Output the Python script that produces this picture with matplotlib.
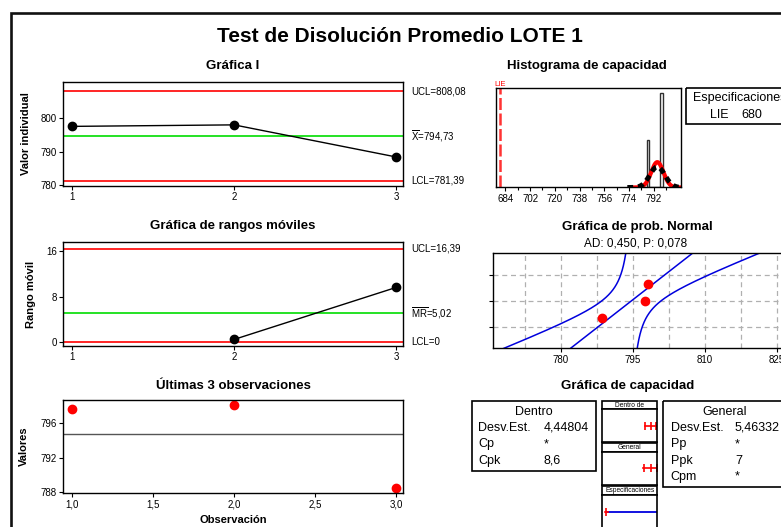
from statistics import NormalDist

import numpy as np
from matplotlib import patches
from matplotlib import pyplot as plt

plt.rcParams["font.family"] = ["Liberation Sans", "DejaVu Sans"]
plt.rcParams["mathtext.fontset"] = "custom"
plt.rcParams["mathtext.rm"] = "Liberation Sans"

W, H = 781, 527

# data
obs = [1, 2, 3]
values = [797.63, 798.08, 788.49]
mr_obs = [2, 3]
moving_ranges = [0.45, 9.59]

x_ucl, x_bar, x_lcl = 808.08, 794.73, 781.39
mr_ucl, mr_bar, mr_lcl = 16.39, 5.02, 0.0

sd_within = 4.44804
sd_overall = 5.46332
lie = 680

hist_bins = [787, 789, 791, 793, 795, 797, 799]
hist_ticks = [684, 702, 720, 738, 756, 774, 792]

prob_values = [788.49, 797.63, 798.08]
prob_pct = [20.6, 50.0, 79.4]
prob_grid_pct = [10, 50, 90]

last_ticks = [1.0, 1.5, 2.0, 2.5, 3.0]
last_labels = ["1,0", "1,5", "2,0", "2,5", "3,0"]

within_rows = [("Desv.Est.", "4,44804"), ("Cp", "*"), ("Cpk", "8,6")]
overall_rows = [("Desv.Est.", "5,46332"), ("Pp", "*"), ("Ppk", "7"), ("Cpm", "*")]

GREEN = "#00dd00"


def px_axes(fig, x0, y0, x1, y1):
    return fig.add_axes([x0 / W, 1 - y1 / H, (x1 - x0) / W, (y1 - y0) / H])


def style(ax):
    for s in ax.spines.values():
        s.set_linewidth(1.0)
    ax.tick_params(labelsize=7, length=3, width=0.8, direction="out", pad=1.5)
    ax.tick_params(top=False, right=False)


def side_label(ax, y, text):
    ax.annotate(text, xy=(1, y), xycoords=("axes fraction", "data"),
                xytext=(6, 0), textcoords="offset points",
                fontsize=7, va="center", ha="left")


def normal_pdf(x, mu, sd):
    return np.exp(-0.5 * ((x - mu) / sd) ** 2) / (sd * np.sqrt(2 * np.pi))


def main():
    fig = plt.figure(figsize=(W / 100, H / 100), dpi=100)

    ov = fig.add_axes([0, 0, 1, 1])
    ov.set_xlim(0, W)
    ov.set_ylim(H, 0)
    ov.axis("off")

    # outer frame
    ov.plot([11, 11, 800], [540, 12.8, 12.8], color="#111111", lw=1.9,
            solid_joinstyle="miter", clip_on=False)

    def ftext(x, y, s, **kw):
        ov.text(x, y, s, **kw)

    ftext(400, 37, "Test de Disolución Promedio LOTE 1", fontsize=15,
          fontweight="bold", ha="center", va="center")
    ftext(233, 66, "Gráfica I", fontsize=9.5, fontweight="bold", ha="center", va="center")
    ftext(587, 66, "Histograma de capacidad", fontsize=9.5, fontweight="bold",
          ha="center", va="center")
    ftext(233, 226, "Gráfica de rangos móviles", fontsize=9.5, fontweight="bold",
          ha="center", va="center")
    ftext(637, 227, "Gráfica de prob. Normal", fontsize=9.5, fontweight="bold",
          ha="center", va="center")
    ftext(636, 243, "AD: 0,450, P: 0,078", fontsize=8.5, ha="center", va="center")
    ftext(233, 386, "Últimas 3 observaciones", fontsize=9.5, fontweight="bold",
          ha="center", va="center")
    ftext(628, 386, "Gráfica de capacidad", fontsize=9.5, fontweight="bold",
          ha="center", va="center")

    # Gráfica I
    ax = px_axes(fig, 63, 82, 403, 186)
    ax.axhline(x_ucl, color="red", lw=1.2)
    ax.axhline(x_bar, color=GREEN, lw=1.2)
    ax.axhline(x_lcl, color="red", lw=1.2)
    ax.plot(obs, values, color="black", lw=1, marker="o", ms=6)
    ax.set_xlim(0.944, 3.043)
    ax.set_ylim(779.8, 810.9)
    ax.set_xticks(obs)
    ax.set_yticks([780, 790, 800])
    ax.set_ylabel("Valor individual", fontsize=8, fontweight="bold")
    ax.yaxis.set_label_coords(-0.094, 0.5)
    style(ax)
    side_label(ax, x_ucl, "UCL=808,08")
    side_label(ax, x_bar, r"$\overline{\mathrm{X}}$=794,73")
    side_label(ax, x_lcl, "LCL=781,39")

    # Gráfica de rangos móviles
    ax = px_axes(fig, 63, 242.3, 403, 346)
    ax.axhline(mr_ucl, color="red", lw=1.2)
    ax.axhline(mr_bar, color=GREEN, lw=1.2)
    ax.axhline(mr_lcl, color="red", lw=1.2)
    ax.plot(mr_obs, moving_ranges, color="black", lw=1, marker="o", ms=6)
    ax.set_xlim(0.944, 3.043)
    ax.set_ylim(-0.7, 17.53)
    ax.set_xticks(obs)
    ax.set_yticks([0, 8, 16])
    ax.set_ylabel("Rango móvil", fontsize=8, fontweight="bold")
    ax.yaxis.set_label_coords(-0.079, 0.5)
    style(ax)
    side_label(ax, mr_ucl, "UCL=16,39")
    side_label(ax, mr_bar, r"$\overline{\mathrm{MR}}$=5,02")
    side_label(ax, mr_lcl, "LCL=0")

    # Últimas 3 observaciones
    ax = px_axes(fig, 63, 400, 403, 493.3)
    ax.axhline(x_bar, color="#555555", lw=1)
    ax.plot(obs, values, "o", color="red", ms=6)
    ax.set_xlim(0.944, 3.043)
    ax.set_ylim(787.9, 798.7)
    ax.set_xticks(last_ticks)
    ax.set_xticklabels(last_labels)
    ax.set_yticks([788, 792, 796])
    ax.set_ylabel("Valores", fontsize=8, fontweight="bold")
    ax.yaxis.set_label_coords(-0.1, 0.5)
    ax.set_xlabel("Observación", fontsize=8, fontweight="bold")
    ax.xaxis.set_label_coords(0.5, -0.23)
    style(ax)

    # Histograma de capacidad
    ax = px_axes(fig, 495.7, 88.3, 681, 187.5)
    ax.hist(values, bins=hist_bins, facecolor="white", edgecolor="#303030", lw=1)
    ax.axvline(lie, color="#ff3333", lw=1.8, ls=(0, (4.8, 1.4)))
    xs = np.linspace(x_bar - 4 * sd_within, 812, 300)
    scale = len(values) * (hist_bins[1] - hist_bins[0])
    ax.plot(xs, scale * normal_pdf(xs, x_bar, sd_within), color="red", lw=3)
    xs = np.linspace(x_bar - 4 * sd_overall, 812, 300)
    ax.plot(xs, scale * normal_pdf(xs, x_bar, sd_overall), color="black", lw=3.5,
            ls=(0, (1.2, 1.0)))
    ax.set_xlim(676.9, 812)
    ax.set_ylim(0, 2.105)
    ax.set_xticks(hist_ticks)
    ax.set_xticks([t + 9 for t in hist_ticks], minor=True)
    ax.set_yticks([])
    style(ax)
    ax.tick_params(which="minor", length=2, width=0.8)
    ax.text(lie, 1.0, "LIE", transform=ax.get_xaxis_transform(), color="red",
            fontsize=5.5, ha="center", va="bottom")

    ov.add_patch(patches.Rectangle((685.7, 87.7), 120, 36.3, fill=False,
                                   lw=1.2, ec="black", clip_on=False))
    ftext(692.7, 98.5, "Especificaciones", fontsize=9, va="center")
    ftext(710, 114.5, "LIE", fontsize=9, va="center")
    ftext(741.7, 114.5, str(lie), fontsize=9, va="center")

    # Gráfica de prob. Normal
    nd = NormalDist()
    zlim = nd.inv_cdf(0.99)
    ax = px_axes(fig, 493.3, 253.3, 790, 348.3)
    ax.set_xlim(765.9, 827.8)
    ax.set_ylim(-zlim, zlim)
    ax.set_xticks([780, 795, 810, 825])
    ax.set_xticks([772.5, 787.5, 802.5, 817.5], minor=True)
    ax.set_yticks([nd.inv_cdf(p / 100) for p in prob_grid_pct])
    ax.set_yticklabels([])
    ax.grid(True, which="both", color="#b0b0b0", ls=(0, (4, 3)), lw=0.9)
    ax.set_axisbelow(True)
    n = len(prob_values)
    zz = np.linspace(-3, 3, 300)
    fit = x_bar + zz * sd_overall
    half = 1.96 * sd_overall * np.sqrt(1 / n + zz ** 2 / (2 * (n - 1)))
    ax.plot(fit, zz, color="#0000dd", lw=1.1)
    ax.plot(fit - half, zz, color="#0000dd", lw=1.1)
    ax.plot(fit + half, zz, color="#0000dd", lw=1.1)
    ax.plot(prob_values, [nd.inv_cdf(p / 100) for p in prob_pct], "o",
            color="red", ms=6, zorder=5)
    style(ax)
    ax.tick_params(which="minor", length=0)

    # Gráfica de capacidad: text boxes
    ov.add_patch(patches.Rectangle((471.7, 400.7), 124.3, 70, fill=False,
                                   lw=1.2, ec="black"))
    ftext(533.5, 411.7, "Dentro", fontsize=9, ha="center", va="center")
    for i, (name, val) in enumerate(within_rows):
        y = 428 + i * 16.3
        ftext(478.3, y, name, fontsize=9, va="center")
        ftext(543.3, y, val, fontsize=9, va="center")

    ov.add_patch(patches.Rectangle((663.3, 400.7), 140, 86, fill=False,
                                   lw=1.2, ec="black", clip_on=False))
    ftext(725, 411.7, "General", fontsize=9, ha="center", va="center")
    for i, (name, val) in enumerate(overall_rows):
        y = 428 + i * 16.3
        ftext(670.7, y, name, fontsize=9, va="center")
        ftext(735, y, val, fontsize=9, va="center")

    # Gráfica de capacidad: interval panels
    panels = [
        ("Dentro de", 400.7, 409.3, 441.7, sd_within),
        ("General", 442.7, 451.7, 485, sd_overall),
        ("Especificaciones", 486, 495.3, 545, None),
    ]
    for label, top, mid, bottom, sd in panels:
        ov.add_patch(patches.Rectangle((602.3, top), 55, mid - top, fill=False,
                                       lw=1.2, ec="black"))
        ftext(629.8, (top + mid) / 2 + 0.3, label, fontsize=4.8, ha="center",
              va="center")
        pax = px_axes(fig, 602.3, mid, 657.3, bottom)
        pax.set_xlim(670, 812)
        pax.set_ylim(0, 1)
        pax.set_xticks([])
        pax.set_yticks([])
        for s in pax.spines.values():
            s.set_linewidth(1.2)
        if sd is not None:
            marks = [x_bar - 3 * sd, x_bar, x_bar + 3 * sd]
            pax.plot([marks[0] - 2, marks[2] + 2], [0.5, 0.5], color="red", lw=1.2)
            pax.plot(marks, [0.5] * 3, "|", color="red", ms=6, mew=1.2)
        else:
            yl = 1 - (511.7 - mid) / (bottom - mid)
            pax.hlines(yl, lie, 812, color="#0000dd", lw=1.3)
            pax.plot([lie], [yl], "|", color="red", ms=6, mew=1.2)
            pax.plot([lie - 2, lie + 4], [yl, yl], color="red", lw=1.2)

    fig.savefig("out.png", dpi=100)


if __name__ == "__main__":
    main()
